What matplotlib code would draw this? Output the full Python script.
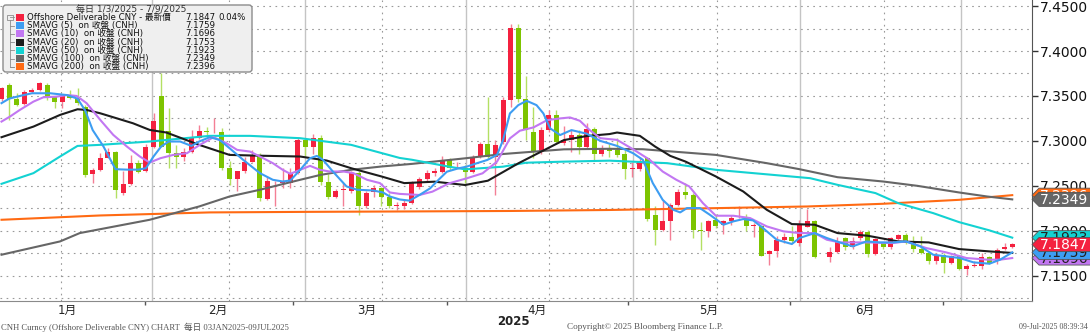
import numpy as np
import matplotlib
matplotlib.use("Agg")
import matplotlib.pyplot as plt
from matplotlib.patches import Polygon, FancyBboxPatch, Rectangle
from matplotlib.lines import Line2D
from matplotlib.transforms import IdentityTransform, blended_transform_factory
from matplotlib.ticker import FormatStrFormatter

plt.rcParams['font.family'] = ['DejaVu Sans', 'Noto Sans CJK TC']

nan = np.nan
# daily OHLC, one per weekday 3 Jan - 9 Jul 2025
opens = [7.3463, 7.3622, 7.3463, 7.3407, 7.3541, 7.3567, 7.3622, 7.3493, 7.3437, 7.3500,
         7.3474, 7.3381, 7.2630, 7.2678, 7.2815, 7.2881, 7.2419, 7.2522, 7.2752, 7.2663,
         7.2937, 7.3500, 7.3115, 7.2870, 7.2826, 7.2881, 7.3030, 7.3115, 7.3108, 7.3104,
         7.2696, 7.2578, 7.2660, 7.2770, 7.2844, 7.2352, 7.2537, 7.2530, 7.2530, 7.2640,
         7.3010, 7.2930, 7.3030, 7.2537, 7.2370, 7.2452, 7.2437, 7.2641, 7.2270, 7.2426,
         7.2474, 7.2381, 7.2274, 7.2276, 7.2313, 7.2491, 7.2572, 7.2639, 7.2657, 7.2787,
         7.2738, 7.2694, 7.2657, 7.2824, 7.2965, 7.2824, 7.2991, 7.3454, 7.4261, 7.3461,
         7.3102, 7.2880, 7.3120, 7.3287, 7.2972, 7.3009, 7.3065, 7.2935, 7.3131, 7.2854,
         7.2919, 7.2900, 7.2852, 7.2689, 7.2685, 7.2807, 7.2178, 7.2011, 7.2104, 7.2289,
         7.2430, 7.2400, 7.2011, 7.1993, 7.2122, 7.2067, 7.2104, 7.2152, 7.2152, 7.2048,
         7.2048, 7.1741, 7.1770, 7.1900, 7.1926, 7.1867, 7.2045, 7.2112, nan, 7.1711,
         7.1760, 7.1916, 7.1823, 7.1916, 7.1990, 7.1742, 7.1860, 7.1823, 7.1911, 7.1948,
         7.1870, 7.1796, 7.1752, 7.1659, 7.1733, 7.1641, 7.1715, 7.1574, 7.1604, 7.1611,
         7.1704, 7.1659, 7.1796, 7.1815]
highs = [7.3600, 7.3640, 7.3530, 7.3570, 7.3585, 7.3660, 7.3640, 7.3500, 7.3510, 7.3570,
         7.3585, 7.3400, 7.2700, 7.2860, 7.2920, 7.2890, 7.2670, 7.2840, 7.2790, 7.2970,
         7.3307, 7.3752, 7.3363, 7.2952, 7.2920, 7.3120, 7.3180, 7.3150, 7.3250, 7.3140,
         7.2780, 7.2670, 7.2820, 7.2900, 7.2860, 7.2600, 7.2555, 7.2700, 7.2700, 7.3030,
         7.3030, 7.3080, 7.3070, 7.2630, 7.2470, 7.2530, 7.2660, 7.2660, 7.2440, 7.2510,
         7.2490, 7.2420, 7.2320, 7.2350, 7.2550, 7.2600, 7.2680, 7.2700, 7.2830, 7.2810,
         7.2770, 7.2730, 7.2843, 7.2990, 7.3483, 7.3010, 7.3483, 7.4298, 7.4298, 7.3720,
         7.3380, 7.3160, 7.3343, 7.3343, 7.3170, 7.3120, 7.3120, 7.3200, 7.3150, 7.2950,
         7.2970, 7.3030, 7.2900, 7.2770, 7.2826, 7.2826, 7.2270, 7.2344, 7.2307, 7.2470,
         7.2530, 7.2420, 7.2100, 7.2120, 7.2190, 7.2120, 7.2180, 7.2270, 7.2190, 7.2090,
         7.2065, 7.1790, 7.1945, 7.1970, 7.2050, 7.2120, 7.2242, 7.2120, nan, 7.1823,
         7.1934, 7.1934, 7.1930, 7.2005, 7.2005, 7.1916, 7.1880, 7.1934, 7.1960, 7.1980,
         7.1940, 7.1940, 7.1770, 7.1750, 7.1750, 7.1730, 7.1730, 7.1630, 7.1660, 7.1750,
         7.1715, 7.1810, 7.1860, 7.1860]
lows = [7.3440, 7.3233, 7.3390, 7.3400, 7.3530, 7.3560, 7.3460, 7.3363, 7.3370, 7.3463,
        7.3400, 7.2600, 7.2530, 7.2660, 7.2810, 7.2363, 7.2400, 7.2510, 7.2640, 7.2650,
        7.2920, 7.2930, 7.2696, 7.2696, 7.2780, 7.2860, 7.3020, 7.3060, 7.3090, 7.2680,
        7.2510, 7.2437, 7.2640, 7.2760, 7.2330, 7.2345, 7.2270, 7.2480, 7.2480, 7.2630,
        7.2830, 7.2850, 7.2510, 7.2350, 7.2360, 7.2270, 7.2420, 7.2178, 7.2250, 7.2380,
        7.2270, 7.2250, 7.2230, 7.2240, 7.2300, 7.2470, 7.2550, 7.2610, 7.2640, 7.2680,
        7.2710, 7.2530, 7.2640, 7.2805, 7.2810, 7.2398, 7.2970, 7.3380, 7.3435, 7.3010,
        7.2810, 7.2850, 7.3100, 7.2972, 7.2950, 7.2880, 7.2850, 7.2920, 7.2780, 7.2830,
        7.2820, 7.2820, 7.2574, 7.2600, 7.2670, 7.2104, 7.1844, 7.2000, 7.1900, 7.2270,
        7.2350, 7.1920, 7.1789, 7.1930, 7.2030, 7.1960, 7.2060, 7.2140, 7.2000, 7.1930,
        7.1715, 7.1622, 7.1710, 7.1860, 7.1860, 7.1830, 7.2040, 7.1694, nan, 7.1656,
        7.1750, 7.1790, 7.1800, 7.1900, 7.1705, 7.1730, 7.1800, 7.1800, 7.1900, 7.1850,
        7.1760, 7.1740, 7.1630, 7.1630, 7.1530, 7.1630, 7.1560, 7.1511, 7.1600, 7.1570,
        7.1630, 7.1630, 7.1790, 7.1810]
closes = [7.3585, 7.3463, 7.3400, 7.3541, 7.3567, 7.3641, 7.3493, 7.3437, 7.3500, 7.3480,
          7.3419, 7.2622, 7.2678, 7.2815, 7.2874, 7.2448, 7.2522, 7.2752, 7.2659, 7.2937,
          7.3222, 7.2937, 7.2870, 7.2826, 7.2881, 7.3030, 7.3115, 7.3104, 7.3115, 7.2696,
          7.2578, 7.2660, 7.2770, 7.2844, 7.2363, 7.2548, 7.2545, 7.2556, 7.2640, 7.3010,
          7.2937, 7.3030, 7.2537, 7.2370, 7.2444, 7.2456, 7.2641, 7.2270, 7.2419, 7.2474,
          7.2381, 7.2270, 7.2278, 7.2313, 7.2528, 7.2572, 7.2639, 7.2665, 7.2787, 7.2694,
          7.2746, 7.2657, 7.2824, 7.2965, 7.2824, 7.2954, 7.3454, 7.4261, 7.3461, 7.3120,
          7.2880, 7.3120, 7.3287, 7.2991, 7.3009, 7.3065, 7.2935, 7.3131, 7.2854, 7.2906,
          7.2893, 7.2844, 7.2685, 7.2696, 7.2770, 7.2130, 7.2011, 7.2104, 7.2289, 7.2430,
          7.2400, 7.2004, 7.1993, 7.2111, 7.2048, 7.2104, 7.2141, 7.2159, 7.2048, 7.2059,
          7.1722, 7.1770, 7.1900, 7.1926, 7.1881, 7.2064, 7.2112, 7.1711, nan, 7.1760,
          7.1878, 7.1823, 7.1890, 7.1990, 7.1742, 7.1905, 7.1823, 7.1916, 7.1948, 7.1870,
          7.1796, 7.1752, 7.1659, 7.1726, 7.1641, 7.1715, 7.1574, 7.1611, 7.1622, 7.1704,
          7.1641, 7.1789, 7.1815, 7.1847]

# moving averages, sampled along each line (trading-day index, value)
sma5_day = [0, 1, 2.4, 4, 6.4, 8.6, 10, 11, 12, 13.4, 15, 16.5, 18, 19, 20, 21, 22, 23.5, 25, 26,
            27.4, 28.7, 30, 31.8, 34, 35.7, 37, 38, 39.3, 40.6, 41.5, 42.3, 43.6, 45.4, 46.8,
            48.9, 50.2, 51.1, 52.4, 53.7, 55, 56.4, 57.7, 58.6, 60.1, 61.2, 62.5, 63.9, 65.2, 66,
            66.9, 68, 69.1, 70.4, 71.3, 72.2, 73.5, 75, 77, 78.8, 81, 83.1, 84.4, 85.7, 87, 88.4,
            89.3, 90.2, 91.9, 93.2, 95, 96.3, 97.6, 98.9, 100.2, 102, 104, 105, 107, 108.6, 110.3,
            112, 113.8, 115.6, 117.3, 119, 120.9, 122.6, 124.3, 126.1, 127.9, 130, 131.4, 133]
sma5 = [7.3420, 7.3470, 7.3500, 7.3530, 7.3530, 7.3510, 7.3470, 7.3340, 7.3120, 7.2940, 7.2685,
        7.2680, 7.2680, 7.2696, 7.2826, 7.2937, 7.2993, 7.2993, 7.2944, 7.2993, 7.3041, 7.3011,
        7.2919, 7.2789, 7.2641, 7.2567, 7.2548, 7.2559, 7.2678, 7.2807, 7.2833, 7.2789, 7.2659,
        7.2493, 7.2456, 7.2448, 7.2426, 7.2381, 7.2348, 7.2335, 7.2398, 7.2472, 7.2583, 7.2657,
        7.2694, 7.2713, 7.2750, 7.2787, 7.2843, 7.3009, 7.3306, 7.3398, 7.3446, 7.3398, 7.3306,
        7.3139, 7.3065, 7.3120, 7.3080, 7.3000, 7.2944, 7.2863, 7.2789, 7.2530, 7.2344, 7.2233,
        7.2204, 7.2252, 7.2252, 7.2178, 7.2067, 7.2104, 7.2130, 7.2115, 7.2030, 7.1900, 7.1852,
        7.1919, 7.1974, 7.1919, 7.1870, 7.1826, 7.1881, 7.1870, 7.1870, 7.1881, 7.1826, 7.1733,
        7.1715, 7.1696, 7.1648, 7.1633, 7.1678, 7.1759]
sma10_day = [0, 1.1, 2.4, 4.2, 5.5, 7.3, 8.6, 9.9, 11.2, 13, 14.7, 16.5, 18.2, 19.5, 20.9, 22.6,
             24.4, 26.1, 27.9, 29.6, 31, 32.7, 34, 35.7, 37, 38, 39.3, 40.6, 41.9, 43.2, 45, 46.3,
             48.1, 49.8, 51.1, 52.4, 55, 56.7, 58.9, 61.2, 63.3, 65.2, 66.9, 68.2, 70, 71.8, 73.5,
             74.8, 76.1, 77.4, 78.8, 81, 83.1, 85.3, 87, 88.8, 90.5, 92.3, 94, 96.3, 98.5, 100.7,
             102.9, 105, 107, 108.6, 110.3, 113.8, 117.3, 119, 121.7, 124.3, 127, 129.7, 131.4, 133]
sma10 = [7.3215, 7.3270, 7.3344, 7.3437, 7.3485, 7.3493, 7.3510, 7.3500, 7.3419, 7.3233, 7.3067,
         7.2937, 7.2826, 7.2759, 7.2807, 7.2844, 7.2863, 7.2956, 7.3041, 7.2974, 7.2900, 7.2881,
         7.2826, 7.2752, 7.2678, 7.2633, 7.2678, 7.2722, 7.2678, 7.2659, 7.2659, 7.2641, 7.2567,
         7.2530, 7.2426, 7.2410, 7.2398, 7.2435, 7.2528, 7.2583, 7.2639, 7.2769, 7.3028, 7.3113,
         7.3150, 7.3231, 7.3250, 7.3261, 7.3224, 7.3120, 7.3030, 7.3011, 7.2907, 7.2789, 7.2659,
         7.2567, 7.2493, 7.2307, 7.2167, 7.2167, 7.2141, 7.2048, 7.1993, 7.1974, 7.1974, 7.1900,
         7.1870, 7.1870, 7.1863, 7.1881, 7.1807, 7.1759, 7.1696, 7.1678, 7.1678, 7.1696]
sma20_day = [0, 4.2, 7.7, 10, 11.2, 13, 17.3, 19.5, 21.7, 26, 30, 34, 39.3, 42.8, 46, 50, 53, 57,
             61, 64, 68, 71, 74, 77, 80, 81, 84, 86, 88, 90, 94, 97.6, 100.7, 104, 107, 110, 114,
             118, 122, 126, 130, 133]
sma20 = [7.3041, 7.3159, 7.3289, 7.3352, 7.3344, 7.3307, 7.3196, 7.3122, 7.3093, 7.2956, 7.2844,
         7.2835, 7.2826, 7.2781, 7.2696, 7.2604, 7.2530, 7.2546, 7.2509, 7.2557, 7.2750, 7.2880,
         7.3009, 7.3054, 7.3076, 7.3093, 7.3056, 7.2937, 7.2833, 7.2770, 7.2604, 7.2437, 7.2233,
         7.2074, 7.2067, 7.1974, 7.1944, 7.1881, 7.1870, 7.1796, 7.1770, 7.1753]
sma50_day = [0, 4.2, 7.7, 10, 13, 19.5, 27.4, 32.7, 39.3, 46, 52.4, 54, 58.9, 61, 66, 69, 74, 80,
             87.6, 94, 106.4, 110, 115, 118, 122.6, 126, 130, 133]
sma50 = [7.2522, 7.2641, 7.2826, 7.2944, 7.2956, 7.2993, 7.3056, 7.3056, 7.3030, 7.2956, 7.2810,
         7.2790, 7.2713, 7.2683, 7.2713, 7.2757, 7.2769, 7.2780, 7.2752, 7.2678, 7.2585, 7.2511,
         7.2419, 7.2307, 7.2196, 7.2096, 7.2004, 7.1923]
sma100_day = [0, 7.7, 10.3, 19.5, 26, 30, 34, 39.3, 42, 46, 50, 54, 61, 66, 70, 74, 80, 84.4, 94,
              100.7, 105, 110, 116, 120.5, 126, 129.7, 133]
sma100 = [7.1733, 7.1881, 7.1974, 7.2122, 7.2270, 7.2381, 7.2456, 7.2567, 7.2622, 7.2678, 7.2715,
          7.2744, 7.2806, 7.2854, 7.2880, 7.2906, 7.2912, 7.2907, 7.2844, 7.2752, 7.2685, 7.2596,
          7.2548, 7.2500, 7.2426, 7.2381, 7.2349]
sma200_day = [0, 13, 27.4, 40, 54, 67, 80, 93, 106, 116, 126, 133]
sma200 = [7.2122, 7.2170, 7.2204, 7.2210, 7.2215, 7.2220, 7.2231, 7.2250, 7.2270, 7.2300, 7.2344,
          7.2396]

legend_title = "每日 1/3/2025 - 7/9/2025"
legend_names = ["Offshore Deliverable CNY - 最新價", "SMAVG (5)  on 收盤 (CNH)",
                "SMAVG (10)  on 收盤 (CNH)", "SMAVG (20)  on 收盤 (CNH)",
                "SMAVG (50)  on 收盤 (CNH)", "SMAVG (100)  on 收盤 (CNH)",
                "SMAVG (200)  on 收盤 (CNH)"]
legend_values = ["7.1847", "7.1759", "7.1696", "7.1753", "7.1923", "7.2349", "7.2396"]
last_change = "0.04%"
month_labels = ["1月", "2月", "3月", "4月", "5月", "6月"]

RED, GREEN = '#f4213f', '#7dc400'
C5, C10, C20, C50, C100, C200 = '#3d9df2', '#c277f2', '#1c1c1c', '#13d2d2', '#666666', '#ff6a13'

W, H = 1090, 335
fig = plt.figure(figsize=(W / 100, H / 100), dpi=100)
ax = fig.add_axes([0, 34 / H, 1032 / W, 301 / H])
ax.set_xlim(-0.2, 135.6)
ax.set_ylim(7.1218, 7.4568)

# grid
for v in np.arange(7.125, 7.451, 0.025):
    ax.axhline(v, color='#999999', lw=0.8, ls=(0, (1.5, 4)), zorder=0.5)
for d in [7.8, 29.9, 50.1, 72.0, 94.1, 116.1]:
    ax.axvline(d, color='#999999', lw=0.8, ls=(0, (1.5, 4)), zorder=0.5)
for d in [19.8, 39.9, 61.1, 83.1, 105.1, 126.3]:
    ax.axvline(d, color='#c4c4c4', lw=1.0, zorder=0.5)

# candles
o, h, l, c = map(np.array, (opens, highs, lows, closes))
day = np.arange(len(o))
ok = ~np.isnan(o)
up = ok & (c >= o)
dn = ok & (c < o)
lo = np.minimum(o, c)
ht = np.maximum(np.abs(c - o), 0.0007)
ax.vlines(day[up], l[up], h[up], color='#f47f95', lw=1, zorder=2)
ax.vlines(day[dn], l[dn], h[dn], color='#b3e063', lw=1, zorder=2)
ax.bar(day[up], ht[up], bottom=lo[up], width=0.66, color=RED, lw=0, zorder=3)
ax.bar(day[dn], ht[dn], bottom=lo[dn], width=0.66, color=GREEN, lw=0, zorder=3)

# moving averages
ax.plot(sma200_day, sma200, color=C200, lw=1.5, zorder=4)
ax.plot(sma100_day, sma100, color=C100, lw=1.5, zorder=4)
ax.plot(sma50_day, sma50, color=C50, lw=1.5, zorder=4)
ax.plot(sma20_day, sma20, color=C20, lw=1.5, zorder=4)
ax.plot(sma10_day, sma10, color=C10, lw=1.5, zorder=4)
ax.plot(sma5_day, sma5, color=C5, lw=1.5, zorder=4)

# axes cosmetics
for s in ['left', 'top']:
    ax.spines[s].set_visible(False)
ax.spines['right'].set_color('#555555')
ax.spines['bottom'].set_color('#8a8a8a')
ax.yaxis.tick_right()
ax.set_yticks(np.arange(7.15, 7.451, 0.05))
ax.yaxis.set_major_formatter(FormatStrFormatter('%.4f'))
ax.tick_params(axis='y', direction='out', length=4, width=1, colors='#333333',
               labelsize=10, pad=2, labelcolor='#111111')
ax.set_xticks([18.9, 38.4, 58.6, 82.4, 103.8, 123.9])
ax.set_xticklabels([])
ax.tick_params(axis='x', direction='out', length=3, width=1, colors='#555555')

bt = blended_transform_factory(ax.transData, ax.transAxes)
for d, lab in zip([8.6, 28.5, 48.1, 70.5, 93.0, 113.6], month_labels):
    ax.text(d, -0.03, lab, transform=bt, ha='center', va='center', fontsize=8.5,
            color='#222222')
ax.text(67.3, -0.068, "2025", transform=bt, ha='center', va='center', fontsize=8.5,
        color='#222222', fontweight='bold')

ident = IdentityTransform()


def tag(value, color, tcolor, z):
    y = ax.transData.transform((0, value))[1]
    pts = [(1032, y), (1039, y + 7), (1092, y + 7), (1092, y - 7), (1039, y - 7)]
    fig.add_artist(Polygon(pts, closed=True, fc=color, ec='#555555', lw=0.6,
                           transform=ident, zorder=z))
    fig.text(1064, y - 0.5, f"{value:.4f}", transform=ident, ha='center', va='center',
             fontsize=10, color=tcolor, zorder=z + 0.1)


tag(float(legend_values[6]), C200, 'white', 10)
tag(float(legend_values[5]), C100, 'white', 11)
tag(float(legend_values[2]), C10, '#222222', 12)
tag(float(legend_values[1]), C5, '#222222', 13)
tag(float(legend_values[4]), C50, '#222222', 14)
tag(closes[-1], RED, 'white', 15)

# legend block
fig.add_artist(FancyBboxPatch((3, H - 72), 249, 67, boxstyle='round,pad=0,rounding_size=3',
                              fc='#efefef', ec='#8c8c8c', lw=1, transform=ident, zorder=20))
fig.text(131, H - 9.3, legend_title, transform=ident, ha='center', va='center', fontsize=6.5,
         color='#333333', zorder=21)
fig.add_artist(Line2D([10, 10, 14], [H - 20, H - 66.7, H - 66.7], color='#8c8c8c', lw=0.6,
                      transform=ident, zorder=21))
fig.add_artist(Rectangle((7, H - 19.5), 6, 5, fc='none', ec='#8c8c8c', lw=0.6,
                         transform=ident, zorder=21))
row_y = [17.3, 25.7, 33.9, 42.1, 50.3, 58.5, 66.7]
row_col = [RED, C5, C10, C20, C50, C100, C200]
for yy, col, name, val in zip(row_y, row_col, legend_names, legend_values):
    fig.add_artist(Rectangle((16, H - yy - 3.5), 7.5, 7, fc=col, ec='none', transform=ident,
                             zorder=21))
    fig.add_artist(Line2D([10, 14], [H - yy, H - yy], color='#8c8c8c', lw=0.6,
                          transform=ident, zorder=21))
    fig.text(27, H - yy, name, transform=ident, va='center', fontsize=6.2, color='#111111',
             zorder=21)
    fig.text(215, H - yy, val, transform=ident, va='center', ha='right', fontsize=6.2,
             color='#111111', zorder=21)
fig.text(246, H - row_y[0], last_change, transform=ident, va='center', ha='right',
         fontsize=6.2, color='#111111', zorder=21)

# footer
ffam = ['Liberation Serif', 'Noto Sans CJK TC']
fig.text(1, H - 327, "CNH Curncy (Offshore Deliverable CNY) CHART  每日 03JAN2025-09JUL2025",
         transform=ident, va='center', fontsize=6.2, color='#555555', family=ffam)
fig.text(567, H - 327, "Copyright© 2025 Bloomberg Finance L.P.", transform=ident,
         va='center', fontsize=6.6, color='#555555', family=ffam)
fig.text(1088, H - 327, "09-Jul-2025 08:39:34", transform=ident, va='center', ha='right',
         fontsize=5.8, color='#555555', family=ffam)

fig.savefig("out.png", dpi=100)
